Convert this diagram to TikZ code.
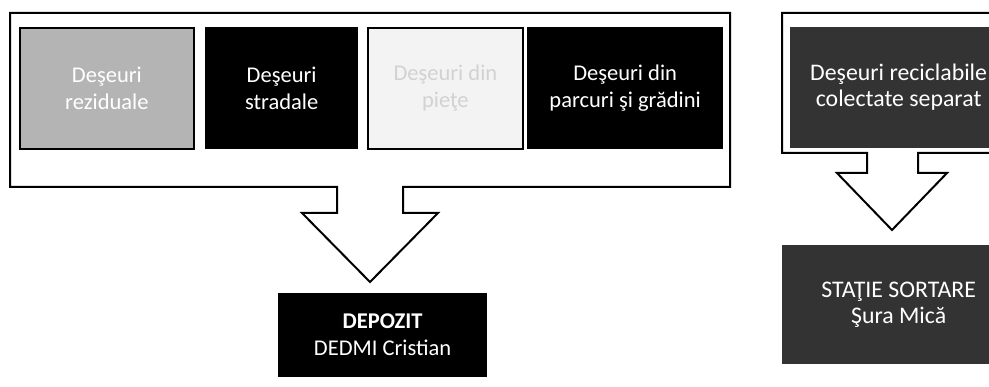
\documentclass[tikz,border=0pt]{standalone}
\usepackage{fontspec}
\setmainfont{Carlito}
\definecolor{speckgray}{HTML}{B4B4B4}
\definecolor{nearwhite}{HTML}{F3F3F3}
\definecolor{darkspeck}{HTML}{333333}
\definecolor{fainttext}{HTML}{D2D2D2}
\begin{document}
\begin{tikzpicture}[x=1pt,y=-1pt,
  box/.style={anchor=north west, line width=1.3pt, align=center, inner sep=0pt,
    text=white, font=\fontsize{22.5}{27}\selectfont},
  bigbox/.style={box, font=\fontsize{23.8}{26}\selectfont},
  callout/.style={draw=black, line width=2pt, line join=miter, fill=white}]
\useasboundingbox (0,0) rectangle (989,387);
% left callout
\draw[callout] (10,13) -- (730,13) -- (730,187) -- (403,187) -- (403,213) -- (438,213)
  -- (370,282) -- (302,213) -- (337,213) -- (337,187) -- (10,187) -- cycle;
% right callout
\draw[callout] (782,13) -- (1014,13) -- (1014,153) -- (918,153) -- (918,173) -- (947,173)
  -- (892,230) -- (837,173) -- (867,173) -- (867,153) -- (782,153) -- cycle;
% inner boxes
\node[box, draw=black, line width=1.8pt, fill=speckgray, minimum width=174pt, minimum height=121pt] (b1) at (19,27)
  {Deşeuri\\reziduale};
\node[box, draw=black, fill=black, minimum width=152pt, minimum height=121pt] (b2) at (205,27)
  {Deşeuri\\stradale};
\node[box, draw=black, line width=1.8pt, fill=nearwhite, text=fainttext, minimum width=155pt, minimum height=121pt] (b3) at (367,27)
  {Deşeuri din\\pieţe};
\node[box, draw=black, fill=black, minimum width=195pt, minimum height=121pt] (b4) at (527,27)
  {Deşeuri din\\parcuri şi grădini};
\node[bigbox, draw=darkspeck, fill=darkspeck, minimum width=216pt, minimum height=120pt] (r1) at (790,27)
  {Deşeuri reciclabile\\colectate separat};
% target boxes
\node[box, draw=black, fill=black, minimum width=208pt, minimum height=83pt] (dep) at (278,293)
  {\textbf{DEPOZIT}\\DEDMI Cristian};
\node[bigbox, draw=darkspeck, fill=darkspeck, minimum width=232pt, minimum height=118pt] (sta) at (782,245)
  {STAŢIE SORTARE\\Şura Mică};
\end{tikzpicture}
\end{document}
